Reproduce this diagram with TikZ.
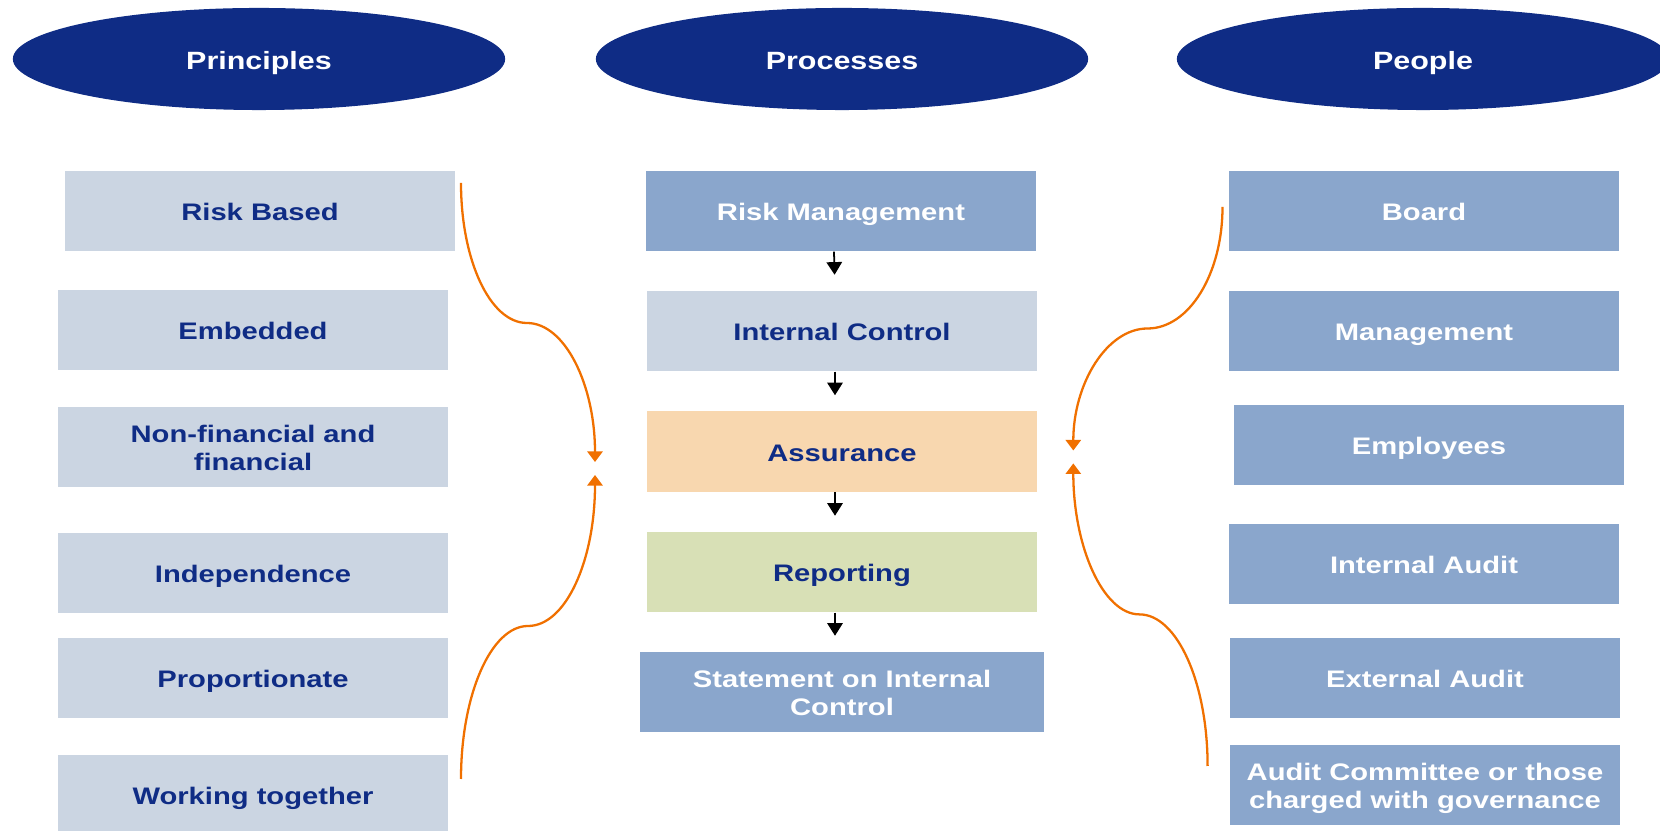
\documentclass[tikz,border=0pt]{standalone}
\usepackage{fontspec}
\setmainfont{Liberation Sans}
\newfontfamily\wideface[FakeStretch=1.22]{Liberation Sans}
\usetikzlibrary{shapes.geometric,arrows.meta}

\definecolor{navy}{RGB}{15,44,133}
\definecolor{paleblue}{RGB}{203,213,226}
\definecolor{midblue}{RGB}{138,166,204}
\definecolor{peach}{RGB}{248,215,175}
\definecolor{sage}{RGB}{216,224,182}
\definecolor{flame}{RGB}{240,112,0}

\tikzset{
  head/.style={ellipse, fill=navy, text=white, minimum width=4.92cm, minimum height=1.02cm,
               inner sep=0pt, text height=5.7pt, text depth=0pt,
               font=\wideface\bfseries\fontsize{7.1}{8}\selectfont},
  box/.style={rectangle, minimum width=3.9cm, minimum height=0.8cm, inner sep=0pt,
              text height=5.45pt, text depth=0pt,
              align=center, font=\wideface\bfseries\fontsize{6.8}{7.8}\selectfont},
  twoline/.style={text height=13.25pt},
  pale/.style={box, fill=paleblue, text=navy},
  dark/.style={box, fill=midblue, text=white},
  flow/.style={-{Triangle[length=3.6pt,width=4.4pt]}, line width=0.5pt, shorten >=0.155cm},
  link/.style={draw=flame, line width=0.65pt, -{Triangle[length=3pt,width=4.3pt]}},
}

\begin{document}
\begin{tikzpicture}[x=0.01cm,y=-0.01cm]
        \useasboundingbox (0,0) rectangle (1660,831);
        \clip (0,0) rectangle (1660,831);

        \node[head] (hprin) at (259,59) {Principles};
        \node[head] (hproc) at (842,59) {Processes};
        \node[head] (hpeop) at (1423,59) {People};

        \node[pale] (rb) at (260,211) {Risk Based};
        \node[pale] (emb) at (253,330) {Embedded};
        \node[pale, twoline] (nf) at (253,447) {Non-financial and\\financial};
        \node[pale] (ind) at (253,573) {Independence};
        \node[pale] (prop) at (253,678) {Proportionate};
        \node[pale] (wt) at (253,795) {Working together};

        \node[dark] (rm) at (841,211) {Risk Management};
        \node[pale] (ic) at (842,331) {Internal Control};
        \node[pale, fill=peach] (as) at (842,451.5) {Assurance};
        \node[pale, fill=sage] (rep) at (842,572) {Reporting};
        \node[dark, twoline, minimum width=4.04cm] (soic) at (842,692) {Statement on Internal\\Control};

        \node[dark] (brd) at (1424,211) {Board};
        \node[dark] (mgt) at (1424,331) {Management};
        \node[dark] (emp) at (1429,445) {Employees};
        \node[dark] (ia) at (1424,564) {Internal Audit};
        \node[dark] (ea) at (1425,678) {External Audit};
        \node[dark, twoline] (ac) at (1425,785) {Audit Committee or those\\charged with governance};

        \foreach \a/\b in {rm/ic, ic/as, as/rep, rep/soic}
                \draw[flow] ([xshift=-0.07cm]\a.south) -- ([xshift=-0.07cm]\b.north);

        \coordinate (ltop) at (461,183);
        \coordinate (lmidtop) at (527,323);
        \coordinate (lend) at (595,462);
        \coordinate (lbot) at (461,779);
        \coordinate (lmidbot) at (528,626);
        \coordinate (lend2) at (595,475);
        \draw[link] (ltop) .. controls (461,260) and (490,323) .. (lmidtop)
                           .. controls (565,323) and (595,385) .. (lend);
        \draw[link] (lbot) .. controls (461,695) and (491,626) .. (lmidbot)
                           .. controls (566,626) and (595,560) .. (lend2);

        \coordinate (rtop) at (1222.5,207);
        \coordinate (rmidtop) at (1147.5,328.5);
        \coordinate (rend) at (1073.3,450.5);
        \coordinate (rbot) at (1207.6,766);
        \coordinate (rmidbot) at (1139.5,614.4);
        \coordinate (rend2) at (1073.3,463.4);
        \draw[link] (rtop) .. controls (1222.5,274) and (1189,328.5) .. (rmidtop)
                           .. controls (1107,328.5) and (1073.3,383.4) .. (rend);
        \draw[link] (rbot) .. controls (1207.6,682.6) and (1177,614.4) .. (rmidbot)
                           .. controls (1103,614.4) and (1073.3,546.5) .. (rend2);
\end{tikzpicture}
\end{document}
